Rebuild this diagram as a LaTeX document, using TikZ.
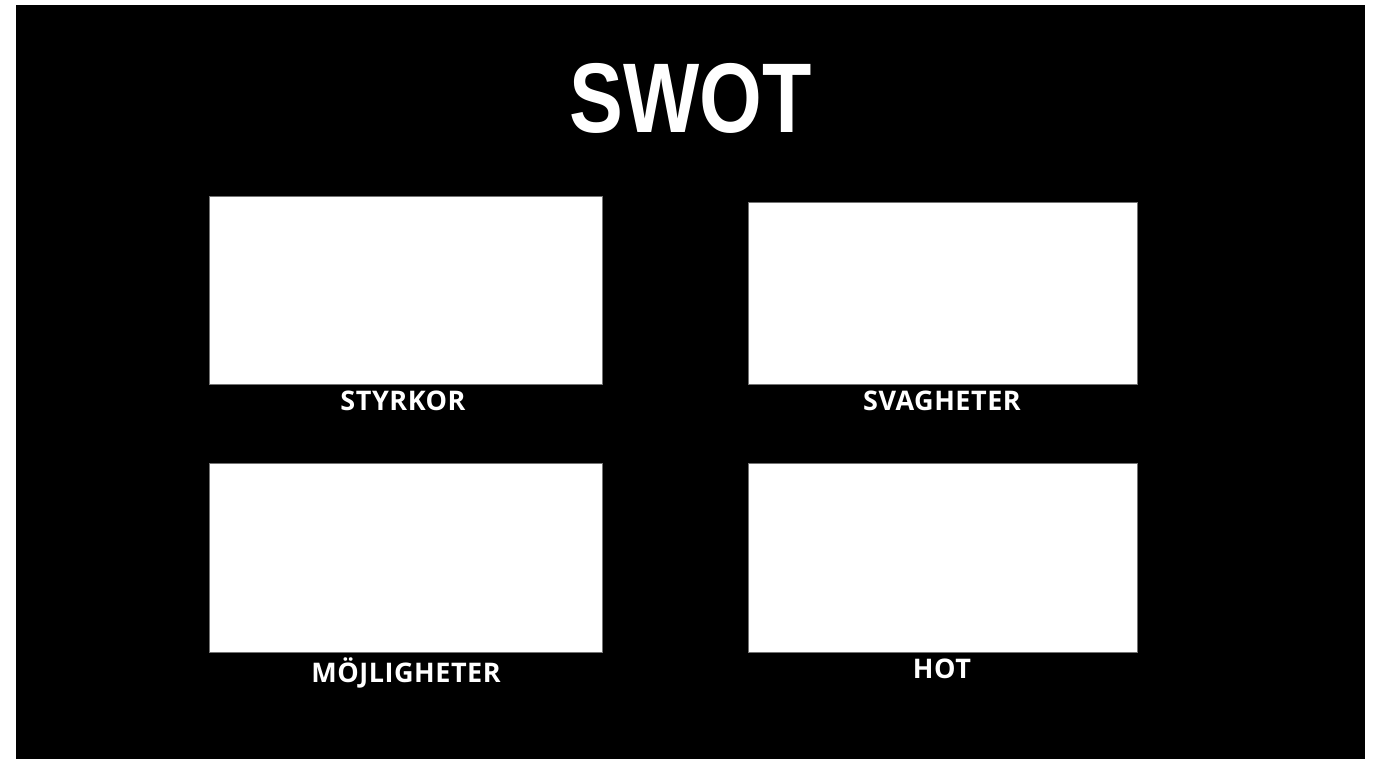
\documentclass[tikz,border=0pt]{standalone}
\usepackage{fontspec}
\setmainfont{Open Sans}[LetterSpace=2]
\newfontfamily\titlefont{Liberation Sans}
\usetikzlibrary{positioning}

\begin{document}
\begin{tikzpicture}[
    x=1pt, y=-1pt,
    font=\fontsize{27}{31}\selectfont\bfseries,
    quad/.style={draw=black!55, line width=0.8pt, fill=white},
    lbl/.style={text=white, anchor=base, inner sep=0pt},
  ]

  % --- Canvas -------------------------------------------------------------
  \useasboundingbox (0,0) rectangle (1376,759);
  \fill[white] (0,0) rectangle (1376,759);
  \fill[black] (16,5) rectangle (1365,759);

  % --- Title --------------------------------------------------------------
  \node[text=white, anchor=base, inner sep=0pt] (title) at (691,133)
    {\titlefont\fontsize{99}{99}\selectfont\bfseries\scalebox{0.815}[1]{SWOT}};

  % --- Quadrants ----------------------------------------------------------
  \draw[quad] (209,196) rectangle (602,384) coordinate (sE);
  \draw[quad] (748,202) rectangle (1137,384) coordinate (wE);
  \draw[quad] (209,463) rectangle (602,652) coordinate (oE);
  \draw[quad] (748,463) rectangle (1137,652) coordinate (tE);

  % --- Labels -------------------------------------------------------------
  \node[lbl] (styrkor) at (403,410) {STYRKOR};
  \node[lbl] (svagheter) at (942,410) {SVAGHETER};
  \node[lbl] (mojligheter) at (406,682) {MÖJLIGHETER};
  \node[lbl] (hot) at (942,678) {HOT};

\end{tikzpicture}
\end{document}
